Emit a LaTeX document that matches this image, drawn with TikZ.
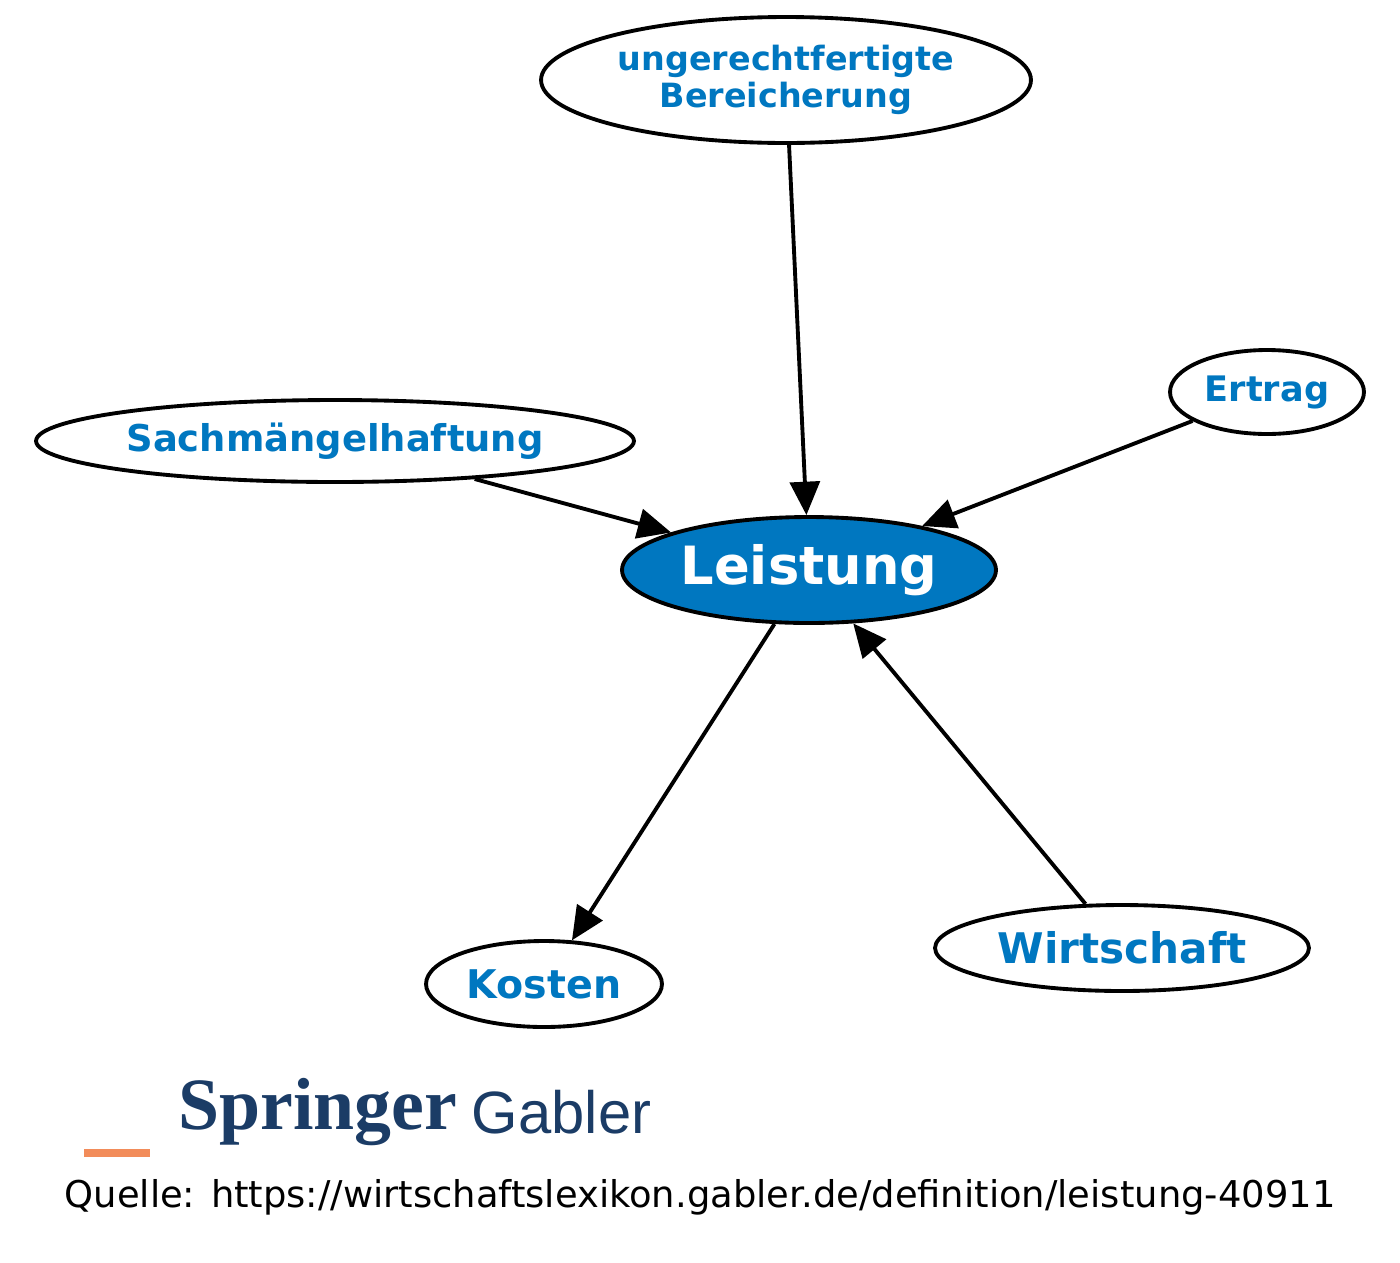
\documentclass[tikz,border=0pt]{standalone}
\usepackage{fontspec}
\setmainfont{DejaVu Sans}
\newfontfamily\springerfont{Liberation Serif}
\newfontfamily\gablerfont{Liberation Sans}
\usetikzlibrary{shapes.geometric, arrows.meta, positioning}
\definecolor{gablerblue}{HTML}{0077C0}
\definecolor{springerdark}{HTML}{1B3C66}
\definecolor{springerorange}{HTML}{F28C5A}

\begin{document}
\begin{tikzpicture}[
    x=0.02cm, y=-0.02cm,
    term/.style={ellipse, draw, line width=2.2pt, fill=white, inner sep=0pt, align=center,
                 text=gablerblue, font=\bfseries},
    main/.style={term, fill=gablerblue, text=white},
    arrow/.style={-{Triangle[length=19pt, width=17pt]}, line width=2.2pt}
]
\useasboundingbox (0,0) rectangle (1400,1262);

% Begriffe
\node[term, minimum width=9.8cm, minimum height=2.52cm, font=\bfseries\fontsize{19}{21}\selectfont] (bereicherung) at (786,80) {ungerechtfertigte\\Bereicherung};
\node[term, minimum width=3.88cm, minimum height=1.68cm, font=\bfseries\fontsize{20}{24}\selectfont] (ertrag) at (1267,392) {Ertrag};
\node[term, minimum width=11.96cm, minimum height=1.64cm, font=\bfseries\fontsize{21}{24}\selectfont] (sach) at (335,441) {Sachmängelhaftung};
\node[main, minimum width=7.48cm, minimum height=2.12cm, font=\bfseries\fontsize{30}{34}\selectfont] (leistung) at (809,570) {Leistung};
\node[term, minimum width=4.72cm, minimum height=1.72cm, font=\bfseries\fontsize{22.5}{26}\selectfont] (kosten) at (544,984) {Kosten};
\node[term, minimum width=7.48cm, minimum height=1.72cm, font=\bfseries\fontsize{24}{28}\selectfont] (wirtschaft) at (1122,948) {Wirtschaft};

% Pfeile
\draw[arrow] (bereicherung) -- (leistung);
\draw[arrow] (ertrag) -- (leistung);
\draw[arrow] (sach) -- (leistung);
\draw[arrow] (leistung) -- (kosten);
\draw[arrow] (wirtschaft) -- (leistung);

% Logo und Quelle
\fill[springerorange] (84,1149) rectangle (150,1157);
\node[anchor=west, inner sep=0pt, text=springerdark, font=\springerfont\bfseries\fontsize{42}{42}\selectfont] (springer) at (178,1112) {Springer};
\node[right=8pt of springer, inner sep=0pt, text=springerdark, font=\gablerfont\fontsize{34}{34}\selectfont] (gabler) {Gabler};
\node[inner sep=0pt, font=\fontsize{21}{24}\selectfont] (quelle) at (700,1197) {Quelle: https://wirtschaftslexikon.gabler.de/definition/leistung-40911};
\end{tikzpicture}
\end{document}
